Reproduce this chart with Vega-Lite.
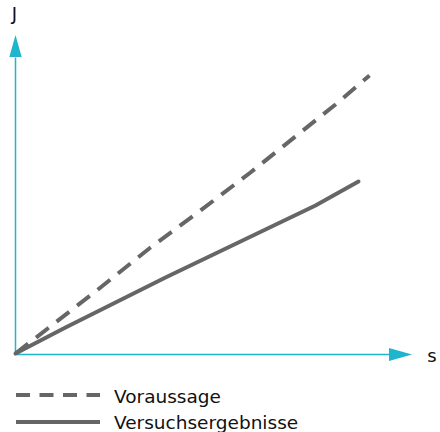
{
  "$schema": "https://vega.github.io/schema/vega-lite/v6.json",
  "width": 440,
  "height": 432,
  "autosize": {"type": "none"},
  "padding": 0,
  "background": "white",
  "config": {"view": {"stroke": null}},
  "datasets": {
    "voraussage": [
      {"x": 0, "y": 1}, {"x": 40, "y": 32}, {"x": 85, "y": 67}, {"x": 135, "y": 107},
      {"x": 185, "y": 144}, {"x": 235, "y": 182}, {"x": 285, "y": 222}, {"x": 320, "y": 250}, {"x": 354, "y": 279}
    ],
    "versuch": [
      {"x": 0, "y": 1}, {"x": 50, "y": 27}, {"x": 100, "y": 52}, {"x": 150, "y": 77},
      {"x": 200, "y": 101}, {"x": 250, "y": 125}, {"x": 300, "y": 149}, {"x": 343, "y": 173}
    ],
    "axes": [
      {"x": 0, "y": 0, "x2": 374, "y2": 0},
      {"x": 0, "y": 0, "x2": 0, "y2": 297}
    ],
    "arrows": [
      {"x": 385, "y": 0, "dir": "right"},
      {"x": 0, "y": 308.5, "dir": "up"}
    ],
    "axislabels": [
      {"x": -1, "y": 334.5, "t": "J"},
      {"x": 416.5, "y": -7.5, "t": "s"}
    ],
    "legend": [
      {"x": 0.5, "x2": 84.5, "y": -40.5, "tx": 98.5, "ty": -48, "label": "Voraussage", "dash": "dashed"},
      {"x": 0.5, "x2": 84.5, "y": -67.5, "tx": 98.5, "ty": -74.5, "label": "Versuchsergebnisse", "dash": "solid"}
    ]
  },
  "encoding": {},
  "layer": [
    {
      "data": {"name": "axes"},
      "mark": {"type": "rule", "color": "#1fb5cc", "strokeWidth": 1.5},
      "encoding": {
        "x": {"field": "x", "type": "quantitative", "scale": {"domain": [-15.5, 424.5], "nice": false, "zero": false}, "axis": null},
        "x2": {"field": "x2"},
        "y": {"field": "y", "type": "quantitative", "scale": {"domain": [-77.5, 354.5], "nice": false, "zero": false}, "axis": null},
        "y2": {"field": "y2"}
      }
    },
    {
      "data": {"name": "arrows"},
      "transform": [{"filter": "datum.dir === 'right'"}],
      "mark": {"type": "point", "filled": true, "opacity": 1, "color": "#1fb5cc", "strokeWidth": 0, "size": 529, "shape": "M-1,-0.56L1,0L-1,0.56Z"},
      "encoding": {
        "x": {"field": "x", "type": "quantitative", "axis": null},
        "y": {"field": "y", "type": "quantitative", "axis": null}
      }
    },
    {
      "data": {"name": "arrows"},
      "transform": [{"filter": "datum.dir === 'up'"}],
      "mark": {"type": "point", "filled": true, "opacity": 1, "color": "#1fb5cc", "strokeWidth": 0, "size": 484, "shape": "M-0.56,1L0,-1L0.56,1Z"},
      "encoding": {
        "x": {"field": "x", "type": "quantitative", "axis": null},
        "y": {"field": "y", "type": "quantitative", "axis": null}
      }
    },
    {
      "data": {"name": "voraussage"},
      "mark": {"type": "line", "color": "#666666", "strokeWidth": 4, "strokeDash": [16, 10], "strokeCap": "butt"},
      "encoding": {
        "x": {"field": "x", "type": "quantitative", "axis": null},
        "y": {"field": "y", "type": "quantitative", "axis": null}
      }
    },
    {
      "data": {"name": "versuch"},
      "mark": {"type": "line", "color": "#666666", "strokeWidth": 4, "strokeCap": "round"},
      "encoding": {
        "x": {"field": "x", "type": "quantitative", "axis": null},
        "y": {"field": "y", "type": "quantitative", "axis": null}
      }
    },
    {
      "data": {"name": "axislabels"},
      "mark": {"type": "text", "font": "DejaVu Sans", "fontSize": 18, "align": "center", "baseline": "alphabetic", "color": "#111111"},
      "encoding": {
        "x": {"field": "x", "type": "quantitative", "axis": null},
        "y": {"field": "y", "type": "quantitative", "axis": null},
        "text": {"field": "t"}
      }
    },
    {
      "data": {"name": "legend"},
      "transform": [{"filter": "datum.dash === 'dashed'"}],
      "mark": {"type": "rule", "color": "#666666", "strokeWidth": 4, "strokeDash": [14, 9.5]},
      "encoding": {
        "x": {"field": "x", "type": "quantitative", "axis": null},
        "x2": {"field": "x2"},
        "y": {"field": "y", "type": "quantitative", "axis": null}
      }
    },
    {
      "data": {"name": "legend"},
      "transform": [{"filter": "datum.dash === 'solid'"}],
      "mark": {"type": "rule", "color": "#666666", "strokeWidth": 4},
      "encoding": {
        "x": {"field": "x", "type": "quantitative", "axis": null},
        "x2": {"field": "x2"},
        "y": {"field": "y", "type": "quantitative", "axis": null}
      }
    },
    {
      "data": {"name": "legend"},
      "mark": {"type": "text", "font": "DejaVu Sans", "fontSize": 18.5, "align": "left", "baseline": "alphabetic", "color": "#111111"},
      "encoding": {
        "x": {"field": "tx", "type": "quantitative", "axis": null},
        "y": {"field": "ty", "type": "quantitative", "axis": null},
        "text": {"field": "label"}
      }
    }
  ]
}
